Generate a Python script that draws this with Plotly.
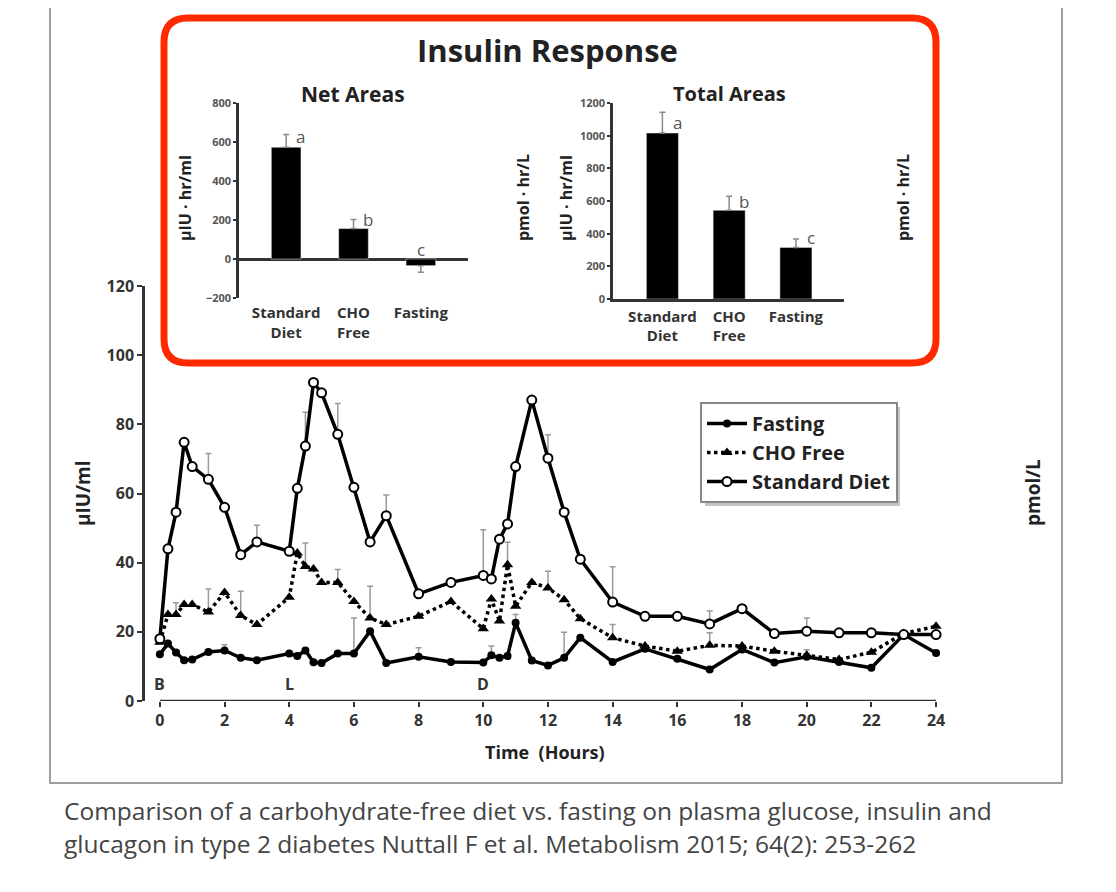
import plotly.graph_objects as go

W, H = 1116, 892
PAGE_OFFSET = 8  # default body margin of the html page
FONT = "Open Sans"

# main 24 h profile (µIU/ml)
hours = [0, 0.25, 0.5, 0.75, 1, 1.5, 2, 2.5, 3, 4, 4.25, 4.5, 4.75, 5, 5.5, 6, 6.5, 7,
         8, 9, 10, 10.25, 10.5, 10.75, 11, 11.5, 12, 12.5, 13, 14, 15, 16, 17, 18, 19,
         20, 21, 22, 23, 24]
fasting = [13.5, 16.6, 14, 11.8, 12, 14.2, 14.6, 12.5, 11.8, 13.7, 13, 14.6, 11.2, 11,
           13.7, 13.7, 20.2, 11, 12.8, 11.3, 11.1, 13.2, 12.5, 13, 22.6, 11.7, 10.3,
           12.5, 18.3, 11.3, 15.1, 12.2, 9.1, 14.9, 11.1, 12.8, 11.3, 9.6, 19.2, 13.9]
cho_free = [17, 25, 25, 27.9, 27.9, 25.7, 31.4, 24.7, 22.1, 30, 42.8, 38.9, 38.2, 34.3,
            34.3, 28.8, 24, 22.1, 24.5, 28.8, 20.9, 29.5, 23.1, 39.4, 27.4, 34.3, 32.7,
            29.3, 23.8, 18.3, 15.9, 14.4, 16.1, 15.9, 14.4, 13.2, 12, 14.1, 19.5, 21.6]
standard = [18, 44, 54.6, 74.8, 67.8, 64.1, 56, 42.3, 46, 43.3, 61.5, 73.7, 92.1, 89.1,
            77.1, 61.8, 46, 53.6, 31, 34.3, 36.3, 35.3, 46.8, 51.2, 67.8, 87, 70.2, 54.6,
            41, 28.6, 24.5, 24.5, 22.3, 26.7, 19.5, 20.2, 19.7, 19.7, 19.2, 19.2]

# upper SEM, only where drawn in the figure
fasting_err = {2: 1.7, 6: 10.3, 8: 2.6, 10.25: 2.7, 11: 2.4, 12.5: 7.4, 20: 2.0}
cho_err = {0.5: 3.4, 1.5: 6.7, 2.5: 7.0, 4.5: 6.8, 5.5: 3.7, 6.5: 9.2, 10.75: 6.5,
           12: 4.8, 14: 3.8, 17: 3.6}
standard_err = {1.5: 7.5, 3: 4.8, 4.5: 9.8, 5.5: 8.9, 7: 6.0, 10: 13.2, 12: 6.8,
                14: 10.2, 17: 3.7, 20: 3.8}

meal_labels = ["B", "L", "D"]
meal_hours = [0, 4, 10]

# inset bars
groups = ["Standard<br>Diet", "CHO<br>Free", "Fasting"]
net_area = [573, 156, -34]
net_err = [65, 46, 34]
net_sig_y = [626, 205, 51]
total_area = [1016, 543, 316]
total_err = [127, 86, 51]
total_sig_y = [1078, 598, 377]
sig_letters = ["a", "b", "c"]


def fx(p):
    return (p - PAGE_OFFSET) / W


def fy(p):
    return 1 - (p - PAGE_OFFSET) / H


def rounded_box(x0, y0, x1, y1, r):
    return (f"M {fx(x0 + r)},{fy(y0)} L {fx(x1 - r)},{fy(y0)} "
            f"Q {fx(x1)},{fy(y0)} {fx(x1)},{fy(y0 + r)} L {fx(x1)},{fy(y1 - r)} "
            f"Q {fx(x1)},{fy(y1)} {fx(x1 - r)},{fy(y1)} L {fx(x0 + r)},{fy(y1)} "
            f"Q {fx(x0)},{fy(y1)} {fx(x0)},{fy(y1 - r)} L {fx(x0)},{fy(y0 + r)} "
            f"Q {fx(x0)},{fy(y0)} {fx(x0 + r)},{fy(y0)} Z")


def err_trace(vals, err_at):
    xs = [t for t in hours if t in err_at]
    ys = [v for t, v in zip(hours, vals) if t in err_at]
    es = [err_at[t] for t in xs]
    return go.Scatter(x=xs, y=ys, mode="markers", marker=dict(size=1, opacity=0),
                      error_y=dict(type="data", symmetric=False, array=es,
                                   arrayminus=[0] * len(es), color="#9a9a9a",
                                   thickness=1.5, width=3),
                      showlegend=False, hoverinfo="skip")


fig = go.Figure()

for vals, ea in [(fasting, fasting_err), (cho_free, cho_err), (standard, standard_err)]:
    fig.add_trace(err_trace(vals, ea))

fig.add_trace(go.Scatter(x=hours, y=fasting, name="Fasting", mode="lines+markers",
                         line=dict(color="black", width=3.5),
                         marker=dict(symbol="circle", size=8, color="black")))
fig.add_trace(go.Scatter(x=hours, y=cho_free, name="CHO Free", mode="lines+markers",
                         line=dict(color="black", width=3.5, dash="dot"),
                         marker=dict(symbol="triangle-up", size=10, color="black")))
fig.add_trace(go.Scatter(x=hours, y=standard, name="Standard Diet", mode="lines+markers",
                         line=dict(color="black", width=3.5),
                         marker=dict(symbol="circle", size=9, color="white",
                                     line=dict(color="black", width=2))))

# Net areas
fig.add_trace(go.Bar(x=[0, 1, 2], y=net_area, width=0.44, marker_color="black",
                     error_y=dict(type="data", symmetric=False,
                                  array=[e if v >= 0 else 0 for v, e in zip(net_area, net_err)],
                                  arrayminus=[e if v < 0 else 0 for v, e in zip(net_area, net_err)],
                                  color="#8a8a8a", thickness=1.5, width=3),
                     xaxis="x3", yaxis="y3", showlegend=False))
# Total areas
fig.add_trace(go.Bar(x=[0, 1, 2], y=total_area, width=0.48, marker_color="black",
                     error_y=dict(type="data", symmetric=False, array=total_err,
                                  arrayminus=[0, 0, 0], color="#8a8a8a",
                                  thickness=1.5, width=3),
                     xaxis="x4", yaxis="y5", showlegend=False))

tick_main = dict(family=FONT, size=16, color="#333", weight="bold")
tick_small = dict(family=FONT, size=11, color="#555", weight="bold")
tick_cat = dict(family=FONT, size=15, color="#333", weight="bold")
axis_line = dict(showline=True, linewidth=2.5, linecolor="#333", showgrid=False,
                 zeroline=False, ticks="outside", tickcolor="#333", tickwidth=1.5,
                 automargin=False)

fig.update_layout(
    width=W, height=H,
    margin=dict(l=0, r=0, t=0, b=0, autoexpand=False),
    paper_bgcolor="white", plot_bgcolor="rgba(0,0,0,0)",
    font=dict(family=FONT, color="#333"),
    xaxis=dict(domain=[fx(145), fx(949)], range=[-0.46, 24.4], anchor="y",
               tickvals=list(range(0, 25, 2)), ticks="outside", ticklen=5,
               tickwidth=2, tickcolor="#333", showline=False, showgrid=False,
               zeroline=False, tickfont=tick_main, automargin=False),
    yaxis=dict(domain=[fy(701), fy(286)], range=[0, 120], dtick=20, anchor="x",
               ticklen=5, tickfont=tick_main, **axis_line),
    yaxis2=dict(overlaying="y", side="right", anchor="x", range=[0, 718],
                tickvals=list(range(0, 701, 100)), ticklen=5, tickfont=tick_main,
                **axis_line),
    xaxis3=dict(domain=[fx(239), fx(468)], range=[-0.7, 2.7], anchor="y3",
                tickvals=[0, 1, 2], ticktext=groups, ticks="", showline=False,
                showgrid=False, zeroline=False, ticklabelstandoff=4,
                tickfont=tick_cat, automargin=False),
    yaxis3=dict(domain=[fy(298), fy(103)], range=[-200, 800], dtick=200, anchor="x3",
                ticklen=3, tickfont=tick_small,
                **{**axis_line, "zeroline": True}, zerolinewidth=2.5,
                zerolinecolor="#333"),
    yaxis4=dict(overlaying="y3", side="right", anchor="x3", range=[-1200, 4800],
                dtick=1200, ticklen=3, tickfont=tick_small, **axis_line),
    xaxis4=dict(domain=[fx(613), fx(844)], range=[-0.74, 2.72], anchor="y5",
                tickvals=[0, 1, 2], ticktext=groups, ticks="", showline=True,
                linewidth=2.5, linecolor="#333", showgrid=False, zeroline=False,
                ticklabelstandoff=2, tickfont=tick_cat, automargin=False),
    yaxis5=dict(domain=[fy(299), fy(103)], range=[0, 1200], dtick=200, anchor="x4",
                ticklen=3, tickfont=tick_small, **axis_line),
    yaxis6=dict(overlaying="y5", side="right", anchor="x4", range=[0, 7120],
                tickvals=list(range(0, 7001, 1000)), ticklen=3, tickfont=tick_small,
                **axis_line),
    legend=dict(x=fx(700), y=fy(402), xanchor="left", yanchor="top",
                bgcolor="white", bordercolor="#888", borderwidth=2,
                font=dict(family=FONT, size=20, color="#222", weight="bold"),
                itemwidth=40, tracegroupgap=0),
    showlegend=True,
)

# x-axis baseline only across the sampled period
fig.add_shape(type="line", xref="x", yref="y", x0=hours[0], x1=hours[-1], y0=0, y1=0,
              line=dict(color="#333", width=2.5))

# frame, legend shadow, red highlight box
fig.add_shape(type="path", xref="paper", yref="paper", layer="below",
              path=f"M {fx(50)},{fy(-5)} L {fx(50)},{fy(783)} L {fx(1062)},{fy(783)} L {fx(1062)},{fy(-5)}",
              line=dict(color="#9c9c9c", width=2))
fig.add_shape(type="rect", xref="paper", yref="paper", layer="below",
              x0=fx(705), x1=fx(900), y0=fy(506), y1=fy(407),
              fillcolor="#c4c4c4", line=dict(width=0))
fig.add_shape(type="path", xref="paper", yref="paper", layer="above",
              path=rounded_box(164, 18, 936, 363, 24),
              line=dict(color="#ff2a00", width=7))

ann = []


def text(x, y, s, size, bold=True, angle=0, color="#222", xanchor="center"):
    ann.append(dict(x=fx(x), y=fy(y), xref="paper", yref="paper", showarrow=False,
                    text=f"<b>{s}</b>" if bold else s, textangle=angle,
                    xanchor=xanchor, yanchor="middle",
                    font=dict(family=FONT, size=size, color=color)))


text(547, 50, "Insulin Response", 31)
text(353, 94, "Net Areas", 21)
text(729, 94, "Total Areas", 20)
text(185, 198, "µIU · hr/ml", 16, angle=-90)
text(523, 198, "pmol · hr/L", 16, angle=-90)
text(566, 198, "µIU · hr/ml", 16, angle=-90)
text(903, 198, "pmol · hr/L", 16, angle=-90)
text(83, 493, "µIU/ml", 19, angle=-90)
text(1033, 493, "pmol/L", 19, angle=-90)
text(545, 752, "Time  (Hours)", 18)
text(62, 810, "Comparison of a carbohydrate-free diet vs. fasting on plasma glucose, insulin and",
     24.5, bold=False, color="#444", xanchor="left")
text(62, 843, "glucagon in type 2 diabetes Nuttall F et al. Metabolism 2015; 64(2): 253-262",
     24.5, bold=False, color="#444", xanchor="left")

for lab, h in zip(meal_labels, meal_hours):
    ann.append(dict(x=h, y=5, xref="x", yref="y", text=f"<b>{lab}</b>", showarrow=False,
                    font=dict(family=FONT, size=16, color="#333")))

for i, (ly, s) in enumerate(zip(net_sig_y, sig_letters)):
    ann.append(dict(x=i, y=ly, xref="x3", yref="y3", text=s, showarrow=False,
                    xshift=14 if net_area[i] >= 0 else 0,
                    font=dict(family=FONT, size=17, color="#555")))
for i, (ly, s) in enumerate(zip(total_sig_y, sig_letters)):
    ann.append(dict(x=i, y=ly, xref="x4", yref="y5", text=s, showarrow=False,
                    xshift=15, font=dict(family=FONT, size=17, color="#555")))

fig.update_layout(annotations=ann)
fig.write_html("out.html")
